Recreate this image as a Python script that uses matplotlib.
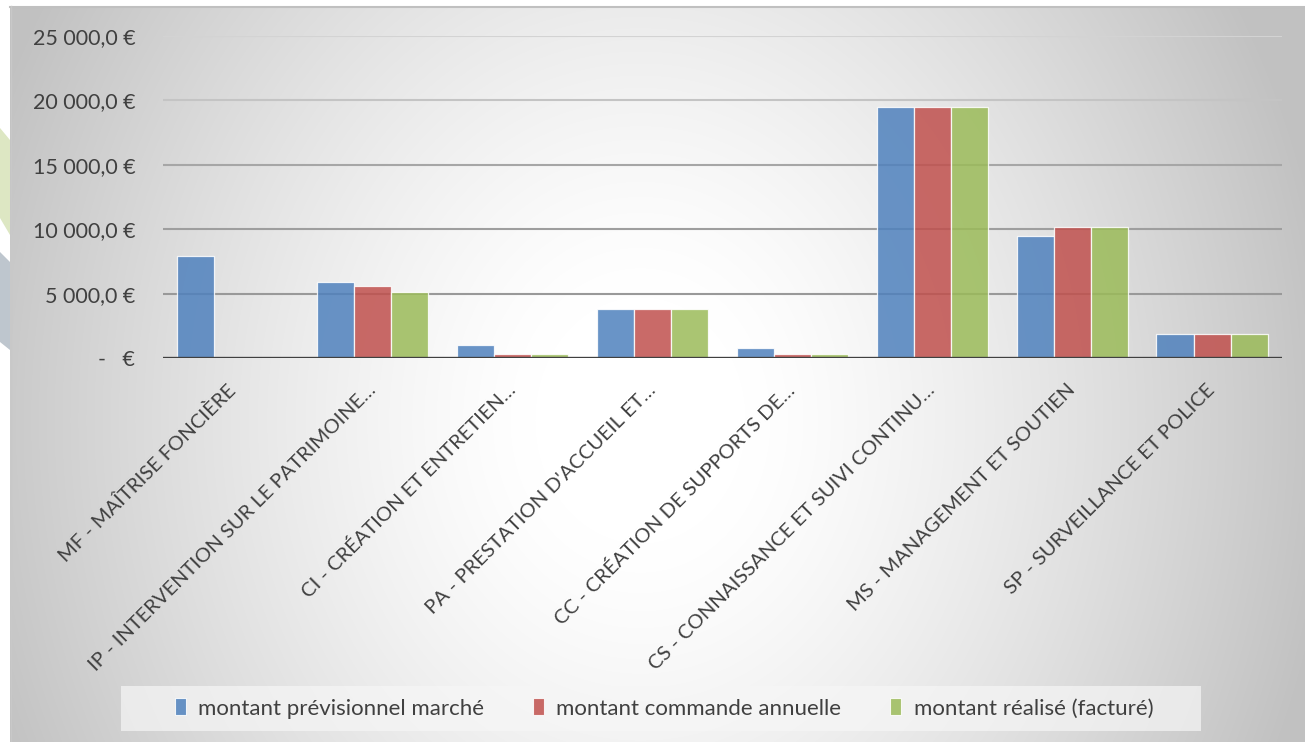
import numpy as np
import matplotlib
matplotlib.use("Agg")
import matplotlib.pyplot as plt
from matplotlib.patches import Rectangle, Polygon

plt.rcParams['font.family'] = ['Lato', 'DejaVu Sans']

categories = [
    "MF - MAÎTRISE FONCIÈRE",
    "IP - INTERVENTION SUR LE PATRIMOINE…",
    "CI - CRÉATION ET ENTRETIEN…",
    "PA - PRESTATION D'ACCUEIL ET…",
    "CC - CRÉATION DE SUPPORTS DE…",
    "CS - CONNAISSANCE ET SUIVI CONTINU…",
    "MS - MANAGEMENT ET SOUTIEN",
    "SP - SURVEILLANCE ET POLICE",
]
series_names = ["montant prévisionnel marché", "montant commande annuelle", "montant réalisé (facturé)"]
previsionnel = [7900, 5900, 1000, 3780, 750, 19450, 9500, 1850]
commande = [0, 5600, 280, 3780, 280, 19450, 10150, 1850]
realise = [0, 5100, 280, 3780, 280, 19450, 10150, 1850]
yticks = [0, 5000, 10000, 15000, 20000, 25000]
ytick_labels = ["-   €", "5 000,0 €", "10 000,0 €", "15 000,0 €", "20 000,0 €", "25 000,0 €"]
colors = ["#4F81BD", "#C0504D", "#9BBB59"]
grid_colors = ["#999999", "#9E9E9E", "#A6A6A6", "#C4C4C4", "#D3D3D3"]

W, H = 1305, 742
fig = plt.figure(figsize=(W / 100, H / 100), dpi=100)

# background gradient
bg = fig.add_axes([0, 0, 1, 1], zorder=-10)
yy, xx = np.mgrid[0:H, 0:W]
cx, cy, rx, ry = 640, 420, 700, 820
r = np.sqrt(((xx - cx) / rx) ** 2 + ((yy - cy) / ry) ** 2)
t = np.clip((r - 0.15) / 0.85, 0, 1) ** 1.3
v = 1.0 - (62 / 255) * t
img = np.dstack([v, v, v])
img[:6, :, :] = 1.0
img[:, :10, :] = 1.0
bg.imshow(img, extent=[0, W, H, 0], aspect='auto', interpolation='bilinear')
bg.plot([10, W], [6.5, 6.5], color="#C0C0C0", lw=1.5)
bg.plot([10.5, 10.5], [6, H], color="#C8C8C8", lw=1.0)
bg.add_patch(Polygon([[0, 128], [10, 140], [10, 235], [0, 218]], closed=True, color="#DDE7C3", lw=0))
bg.add_patch(Polygon([[0, 252], [10, 262], [10, 350], [0, 342]], closed=True, color="#BEC6CE", lw=0))
bg.set_xlim(0, W)
bg.set_ylim(H, 0)
bg.axis('off')

# legend box
bg.add_patch(Rectangle((121, 686), 1080, 45, facecolor="#F6F6F6", alpha=0.7, lw=0))

ax = fig.add_axes([163 / W, 1 - 358 / H, (1282 - 163) / W, (358 - 36) / H])
ax.patch.set_alpha(0)
x = np.arange(len(categories))
bw = 0.265
for yv, gc in zip(yticks[1:], grid_colors):
    ax.axhline(yv, color=gc, linewidth=1.5, zorder=1)
for i, (vals, c, name) in enumerate(zip([previsionnel, commande, realise], colors, series_names)):
    ax.bar(x + (i - 1) * bw, vals, width=bw, color=c, alpha=0.85, edgecolor="white",
           linewidth=0.9, zorder=2, label=name)

ax.set_xlim(-0.5, len(categories) - 0.5)
ax.set_ylim(0, 25000)
ax.set_yticks(yticks)
ax.set_yticklabels(ytick_labels)
for s in ax.spines.values():
    s.set_visible(False)
ax.axhline(0, color="#404040", linewidth=2.4, zorder=3)
ax.tick_params(axis='y', length=0, pad=20, labelsize=15.5, labelcolor="#404040")
ax.tick_params(axis='x', length=0, pad=21, labelsize=14.5, labelcolor="#404040")
ax.set_xticks(x)
ax.set_xticklabels(categories, rotation=45, ha='right', va='center', rotation_mode='anchor')

handles = [Rectangle((0, 0), 1, 1, facecolor=c, alpha=0.85, edgecolor="white", lw=0.8) for c in colors]
leg = fig.legend(handles, series_names, loc='center', bbox_to_anchor=(664 / W, 1 - 708.5 / H),
                 ncol=3, frameon=False, fontsize=16, handlelength=0.5, handleheight=0.8,
                 handletextpad=0.55, columnspacing=2.2, labelcolor="#404040")

fig.savefig("out.png", dpi=100)
